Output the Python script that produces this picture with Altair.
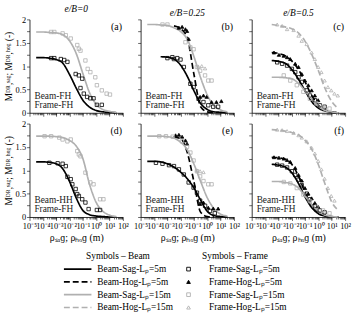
import json
import altair as alt
import pandas as pd

SERIF = "Liberation Serif"
BLACK = "#000000"
GRAY = "#b0b0b0"

RHO_EXP = [-4.5, -4.0, -3.5, -3.0, -2.5, -2.0, -1.5, -1.0, -0.5, 0.0, 0.5, 1.0, 1.5]

BEAM = ["Beam-Sag-Lₚ=5m", "Beam-Hog-Lₚ=5m", "Beam-Sag-Lₚ=15m", "Beam-Hog-Lₚ=15m"]
FRAME = ["Frame-Sag-Lₚ=5m", "Frame-Hog-Lₚ=5m", "Frame-Sag-Lₚ=15m", "Frame-Hog-Lₚ=15m"]
PANEL_TAGS = ["(a)", "(b)", "(c)", "(d)", "(e)", "(f)"]
COL_TITLES = ["e/B=0", "e/B=0.25", "e/B=0.5"]
CASE_TOP = ["Beam-FH", "Beam-FH", "Beam-FH", "Beam-HH", "Beam-HH", "Beam-HH"]
CASE_BOTTOM = ["Frame-FH"] * 6
X_TICK_LABELS = ["10⁻⁵", "10⁻⁴", "10⁻³", "10⁻²", "10⁻¹", "10⁰", "10¹", "10²"]
Y_TICK_LABELS = ["0", "0.5", "1", "1.5", "2"]
X_TITLE = "ρₛₐɡ; ρₕₒɡ (m)"
Y_TITLE = "Mᴰᴿ,ˢᵃᵍ; Mᴰᴿ,ʰᵒᵍ (-)"

# ---- beam curves (y at RHO_EXP) ----
A_BEAM_SAG5 = [1.18, 1.18, 1.17, 1.14, 1.06, 0.82, 0.53, 0.27, 0.12, 0.05, 0.02, 0.01, 0.0]
A_BEAM_SAG15 = [1.73, 1.73, 1.72, 1.71, 1.67, 1.54, 1.27, 0.84, 0.43, 0.18, 0.07, 0.03, 0.01]
B_BEAM_SAG5 = [None, None, 1.2, 1.19, 1.15, 1.02, 0.78, 0.47, 0.2, 0.07, 0.02, 0.01, 0.0]
B_BEAM_HOG5 = [None, None, None, None, 1.86, 1.8, 1.6, 0.82, 0.13, 0.02, 0.0, None, None]
B_BEAM_SAG15 = [1.89, 1.89, 1.88, 1.87, 1.82, 1.74, 1.57, 1.2, 0.75, 0.38, 0.15, 0.06, 0.02]
C_BEAM_SAG5 = [None, None, 1.12, 1.1, 1.06, 0.93, 0.72, 0.47, 0.24, 0.1, 0.04, 0.01, 0.0]
C_BEAM_HOG5 = [None, None, 1.29, 1.27, 1.22, 1.11, 0.93, 0.66, 0.37, 0.16, 0.06, 0.02, 0.0]
C_BEAM_SAG15 = [None, None, 0.76, 0.76, 0.75, 0.73, 0.63, 0.47, 0.29, 0.14, 0.05, 0.02, 0.0]
C_BEAM_HOG15 = [None, None, 1.89, 1.87, 1.84, 1.8, 1.71, 1.53, 1.25, 0.9, 0.52, 0.24, 0.09]
D_BEAM_SAG5 = [1.18, 1.18, 1.17, 1.14, 1.03, 0.76, 0.41, 0.14, 0.05, 0.02, 0.01, 0.0, 0.0]
D_BEAM_SAG15 = [1.73, 1.73, 1.73, 1.72, 1.7, 1.64, 1.52, 1.25, 0.7, 0.31, 0.12, 0.04, 0.01]
E_BEAM_SAG5 = [1.19, 1.19, 1.18, 1.14, 1.07, 0.96, 0.82, 0.62, 0.36, 0.12, 0.03, 0.01, 0.0]
E_BEAM_HOG5 = [None, None, None, None, 1.71, 1.68, 1.38, 0.75, 0.1, 0.01, 0.0, None, None]
E_BEAM_SAG15 = [1.73, 1.73, 1.73, 1.72, 1.69, 1.6, 1.44, 1.13, 0.76, 0.41, 0.18, 0.06, 0.02]
F_BEAM_SAG5 = [None, None, 1.13, 1.11, 1.07, 0.95, 0.72, 0.43, 0.2, 0.07, 0.02, 0.0, 0.0]
F_BEAM_HOG5 = [None, None, 1.28, 1.27, 1.24, 1.13, 0.88, 0.52, 0.25, 0.1, 0.04, 0.01, 0.0]
F_BEAM_SAG15 = [None, None, 0.76, 0.76, 0.74, 0.71, 0.62, 0.45, 0.27, 0.12, 0.04, 0.01, 0.0]
F_BEAM_HOG15 = [None, None, 1.87, 1.86, 1.84, 1.81, 1.76, 1.64, 1.45, 1.12, 0.7, 0.32, 0.14]

# ---- frame points (log10 rho, M) ----
A_FS5_X = [-3.38, -3.14, -2.65, -2.40, -2.16, -1.54, -1.30, -1.05, -1.18, -0.93, -0.68, -0.44, -0.20, 0.05, 0.42]
A_FS5_Y = [1.17, 1.17, 1.15, 1.13, 1.09, 0.83, 0.80, 0.73, 0.53, 0.41, 0.34, 0.31, 0.31, 0.17, 0.17]
A_FS15_X = [-3.38, -3.14, -2.52, -2.28, -1.91, -1.42, -1.30, -1.18, -0.81, -0.64, -0.44, -0.07, 0.05, 0.42, 0.78, 1.03]
A_FS15_Y = [1.73, 1.73, 1.70, 1.66, 1.59, 1.45, 1.37, 1.33, 1.12, 0.94, 0.87, 0.76, 0.59, 0.48, 0.41, 0.39]

B_FS5_X = [-2.99, -2.62, -2.50, -2.25, -2.01, -1.76, -1.27, -1.03, -0.66, -0.29, 0.07, 0.44, 0.81]
B_FS5_Y = [1.17, 1.19, 1.15, 1.17, 1.14, 0.98, 0.62, 0.55, 0.30, 0.23, 0.16, 0.13, 0.13]
B_FH5_X = [-2.13, -1.89, -1.64, -1.52, -1.40, -0.54, -0.29, -0.05, 0.32, 0.68, 1.05]
B_FH5_Y = [1.82, 1.84, 1.79, 1.75, 1.58, 0.34, 0.37, 0.34, 0.23, 0.23, 0.25]
B_FS15_X = [-3.36, -2.99, -1.64, -1.27, -1.03, -0.78, -0.54, -0.17, 0.07, 0.32]
B_FS15_Y = [1.89, 1.89, 1.51, 1.40, 1.36, 0.98, 0.90, 0.80, 0.69, 0.69]
B_FH15_X = [-0.66, -0.42, -0.17]
B_FH15_Y = [0.98, 1.0, 0.95]

C_FS5_X = [-3.09, -2.72, -2.35, -1.99, -1.74, -1.49, -1.25, -0.88, -0.64, -0.27, 0.10, 0.46]
C_FS5_Y = [1.08, 1.05, 1.01, 0.94, 0.87, 0.76, 0.66, 0.48, 0.37, 0.27, 0.16, 0.13]
C_FH5_X = [-3.33, -2.96, -2.6, -2.35, -2.11, -1.74, -1.49, -1.25, -1.01, -0.76, -0.51, -0.27, -0.02]
C_FH5_Y = [1.29, 1.24, 1.22, 1.19, 1.15, 1.05, 0.98, 0.83, 0.69, 0.59, 0.48, 0.37, 0.27]
C_FS15_X = [-2.6, -2.11, -1.62, -1.13, -0.64, -0.15, 0.34, 0.83]
C_FS15_Y = [0.8, 0.69, 0.59, 0.45, 0.3, 0.2, 0.13, 0.09]
C_FH15_X = [-3.09, -2.72, -2.35, -1.86, -1.49, -1.25, -0.88, -0.51, -0.27, -0.02, 0.22, 0.46, 0.71, 0.96, 1.2, 1.45]
C_FH15_Y = [1.89, 1.86, 1.79, 1.77, 1.65, 1.54, 1.47, 1.29, 1.15, 0.98, 0.87, 0.69, 0.55, 0.48, 0.41, 0.37]

D_FS5_X = [-3.51, -2.89, -2.52, -2.28, -2.16, -1.91, -1.79, -1.54, -1.42, -1.30, -1.05, -0.81, -0.57, 0.05, 0.29]
D_FS5_Y = [1.16, 1.15, 1.14, 1.09, 0.86, 0.81, 0.70, 0.60, 0.49, 0.45, 0.38, 0.31, 0.17, 0.15, 0.15]
D_FS15_X = [-3.87, -3.38, -2.77, -2.52, -2.16, -1.91, -1.42, -1.30, -1.18, -0.81, -0.44, -0.20, 0.29, 0.54]
D_FS15_Y = [1.73, 1.73, 1.70, 1.66, 1.62, 1.66, 1.41, 1.34, 1.30, 0.95, 0.74, 0.70, 0.38, 0.38]

E_FS5_X = [-3.85, -3.36, -2.87, -2.5, -2.13, -1.76, -1.40, -1.03, -0.78, -0.54, -0.17, 0.2, 0.56]
E_FS5_Y = [1.16, 1.14, 1.11, 1.09, 1.02, 0.91, 0.74, 0.63, 0.52, 0.35, 0.24, 0.13, 0.08]
E_FH5_X = [-2.38, -2.13, -1.89, -1.64, -1.52, -0.54, -0.29, 0.07, 0.44, 0.81]
E_FH5_Y = [1.75, 1.76, 1.72, 1.64, 1.57, 0.28, 0.31, 0.20, 0.18, 0.18]
E_FS15_X = [-3.6, -3.1, -2.6, -1.9, -1.52, -1.27, -1.03, -0.78, -0.54, -0.29, 0.07, 0.32]
E_FS15_Y = [1.73, 1.73, 1.72, 1.62, 1.5, 1.38, 1.21, 0.98, 0.87, 0.77, 0.70, 0.70]
E_FH15_X = [-0.78, -0.54, -0.29]
E_FH15_Y = [1.0, 0.98, 0.96]

F_FS5_X = [-3.09, -2.72, -2.35, -1.99, -1.74, -1.49, -1.25, -0.88, -0.64, -0.27, 0.1, 0.46]
F_FS5_Y = [1.12, 1.1, 1.06, 0.98, 0.9, 0.8, 0.68, 0.5, 0.38, 0.24, 0.14, 0.1]
F_FH5_X = [-3.33, -2.96, -2.6, -2.35, -2.11, -1.74, -1.49, -1.25, -1.01, -0.76, -0.51, -0.27, -0.02]
F_FH5_Y = [1.28, 1.27, 1.25, 1.22, 1.18, 1.05, 0.9, 0.78, 0.62, 0.5, 0.4, 0.3, 0.22]
F_FS15_X = [-2.6, -2.11, -1.62, -1.13, -0.64, -0.15, 0.34, 0.83]
F_FS15_Y = [0.75, 0.72, 0.62, 0.48, 0.34, 0.22, 0.14, 0.08]
F_FH15_X = [-3.09, -2.72, -2.35, -1.86, -1.49, -1.25, -0.88, -0.51, -0.27, -0.02, 0.22, 0.46, 0.71, 0.96, 1.2]
F_FH15_Y = [1.87, 1.86, 1.84, 1.8, 1.75, 1.7, 1.62, 1.48, 1.36, 1.2, 1.02, 0.82, 0.62, 0.45, 0.35]

CURVES = [
    {0: A_BEAM_SAG5, 2: A_BEAM_SAG15},
    {0: B_BEAM_SAG5, 1: B_BEAM_HOG5, 2: B_BEAM_SAG15},
    {0: C_BEAM_SAG5, 1: C_BEAM_HOG5, 2: C_BEAM_SAG15, 3: C_BEAM_HOG15},
    {0: D_BEAM_SAG5, 2: D_BEAM_SAG15},
    {0: E_BEAM_SAG5, 1: E_BEAM_HOG5, 2: E_BEAM_SAG15},
    {0: F_BEAM_SAG5, 1: F_BEAM_HOG5, 2: F_BEAM_SAG15, 3: F_BEAM_HOG15},
]
POINTS = [
    {0: (A_FS5_X, A_FS5_Y), 2: (A_FS15_X, A_FS15_Y)},
    {0: (B_FS5_X, B_FS5_Y), 1: (B_FH5_X, B_FH5_Y), 2: (B_FS15_X, B_FS15_Y), 3: (B_FH15_X, B_FH15_Y)},
    {0: (C_FS5_X, C_FS5_Y), 1: (C_FH5_X, C_FH5_Y), 2: (C_FS15_X, C_FS15_Y), 3: (C_FH15_X, C_FH15_Y)},
    {0: (D_FS5_X, D_FS5_Y), 2: (D_FS15_X, D_FS15_Y)},
    {0: (E_FS5_X, E_FS5_Y), 1: (E_FH5_X, E_FH5_Y), 2: (E_FS15_X, E_FS15_Y), 3: (E_FH15_X, E_FH15_Y)},
    {0: (F_FS5_X, F_FS5_Y), 1: (F_FH5_X, F_FH5_Y), 2: (F_FS15_X, F_FS15_Y), 3: (F_FH15_X, F_FH15_Y)},
]

XTICK_VALUES = []
for d in range(-5, 2):
    for k in range(1, 10):
        XTICK_VALUES.append(k * 10.0 ** d)
XTICK_VALUES.append(100.0)
YTICK_VALUES = [i * 0.25 for i in range(9)]

IS_DECADE = "abs(log(datum.value)/LN10 - round(log(datum.value)/LN10)) < 0.001"
X_LABEL_EXPR = (IS_DECADE + " ? " + json.dumps(X_TICK_LABELS, ensure_ascii=False)
                + "[round(log(datum.value)/LN10) + 5] : ''")
Y_LABEL_EXPR = ("abs(datum.value*2 - round(datum.value*2)) < 0.001 ? "
                + json.dumps(Y_TICK_LABELS) + "[round(datum.value*2)] : ''")

XSCALE = alt.Scale(type="log", domain=[1e-5, 100], nice=False)
YSCALE = alt.Scale(domain=[0, 2], nice=False)

beam_legend = alt.Legend(
    title="Symbols – Beam", orient="none", legendX=34, legendY=236,
    symbolType="stroke", symbolSize=784, clipHeight=13, rowPadding=0,
    labelOffset=5, labelFont=SERIF, labelFontSize=9.5, labelColor=BLACK,
    titleFont=SERIF, titleFontSize=9.5, titleFontWeight="normal", titleColor=BLACK,
    titleAnchor="middle", titlePadding=2,
)
frame_legend = alt.Legend(
    title="Symbols – Frame", orient="none", legendX=157, legendY=236,
    symbolSize=14, clipHeight=13, rowPadding=0, symbolStrokeWidth=0.9,
    labelOffset=16, labelFont=SERIF, labelFontSize=9.5, labelColor=BLACK,
    titleFont=SERIF, titleFontSize=9.5, titleFontWeight="normal", titleColor=BLACK,
    titleAnchor="middle", titlePadding=2,
)

line_rows = []
for i, curves in enumerate(CURVES):
    for k, ys in curves.items():
        for e, y in zip(RHO_EXP, ys):
            if y is not None:
                line_rows.append({"panel": i, "rho": 10.0 ** e, "m": y, "beam": BEAM[k]})
LDF = pd.DataFrame(line_rows)

pt_rows = []
for i, pts in enumerate(POINTS):
    for k, (xs, ys) in pts.items():
        for e, y in zip(xs, ys):
            pt_rows.append({"panel": i, "rho": 10.0 ** e, "m": y, "frame": FRAME[k]})
PDF = pd.DataFrame(pt_rows)


def panel(i):
    row, col = divmod(i, 3)
    xkw = dict(values=XTICK_VALUES, labelExpr=X_LABEL_EXPR, labelOverlap=False, labelFlush=False,
               tickSize={"condition": {"test": IS_DECADE, "value": 3.5}, "value": 2},
               labels=(row == 1), labelFont=SERIF, labelFontSize=8.5, labelColor=BLACK,
               labelPadding=1, domainColor=BLACK, tickColor=BLACK, domainWidth=0.8,
               tickWidth=0.6, grid=False)
    if row == 1:
        xkw.update(title=X_TITLE, titleFont=SERIF, titleFontSize=10, titleFontWeight="normal",
                   titleColor=BLACK, titlePadding=3)
    else:
        xkw.update(title=None)
    ykw = dict(values=YTICK_VALUES, labelExpr=Y_LABEL_EXPR, labels=(col == 0), tickSize=3,
               labelFont=SERIF, labelFontSize=8.5, labelColor=BLACK, labelPadding=1,
               domainColor=BLACK, tickColor=BLACK, domainWidth=0.8, tickWidth=0.6, grid=False)
    if col == 0:
        ykw.update(title=Y_TITLE, titleFont=SERIF, titleFontSize=9.5, titleFontWeight="normal",
                   titleColor=BLACK, titlePadding=2)
    else:
        ykw.update(title=None)
    x = alt.X("rho:Q", scale=XSCALE, axis=alt.Axis(**xkw))
    y = alt.Y("m:Q", scale=YSCALE, axis=alt.Axis(**ykw))

    lines = alt.Chart(LDF[LDF.panel == i]).mark_line(interpolate="monotone").encode(
        x=x, y=y,
        stroke=alt.Stroke("beam:N", scale=alt.Scale(domain=BEAM, range=[BLACK, BLACK, GRAY, GRAY]),
                          legend=beam_legend),
        strokeDash=alt.StrokeDash("beam:N", scale=alt.Scale(domain=BEAM, range=[[1, 0], [6, 3], [1, 0], [6, 3]]),
                                  legend=beam_legend),
        strokeWidth=alt.StrokeWidth("beam:N", scale=alt.Scale(domain=BEAM, range=[1.7, 1.7, 1.2, 1.2]),
                                    legend=beam_legend),
    )
    points = alt.Chart(PDF[PDF.panel == i]).mark_point(filled=False, size=12, strokeWidth=0.8, opacity=1).encode(
        x=x, y=y,
        color=alt.Color("frame:N", scale=alt.Scale(domain=FRAME, range=[BLACK, BLACK, GRAY, GRAY]),
                        legend=frame_legend),
        fill=alt.Fill("frame:N", scale=alt.Scale(domain=FRAME, range=["transparent", BLACK, "transparent", "transparent"]),
                      legend=frame_legend),
        shape=alt.Shape("frame:N", scale=alt.Scale(domain=FRAME, range=["square", "triangle-up", "square", "triangle-up"]),
                        legend=frame_legend),
    )
    tag = alt.Chart(pd.DataFrame({"t": [PANEL_TAGS[i]]})).mark_text(
        align="right", baseline="middle", font=SERIF, fontSize=10, color=BLACK
    ).encode(text="t:N", x=alt.value(94), y=alt.value(8))
    case1 = alt.Chart(pd.DataFrame({"t": [CASE_TOP[i]]})).mark_text(
        align="left", baseline="middle", font=SERIF, fontSize=9.5, color="#222222"
    ).encode(text="t:N", x=alt.value(5), y=alt.value(78))
    case2 = alt.Chart(pd.DataFrame({"t": [CASE_BOTTOM[i]]})).mark_text(
        align="left", baseline="middle", font=SERIF, fontSize=9.5, color="#222222"
    ).encode(text="t:N", x=alt.value(5), y=alt.value(87))

    props = dict(width=95, height=95)
    if row == 0:
        props["title"] = alt.TitleParams(COL_TITLES[col], font=SERIF, fontSize=9.5, fontStyle="italic",
                                         fontWeight="normal", color=BLACK, anchor="middle", offset=2)
    return alt.layer(lines, points, tag, case1, case2).properties(**props)


chart = alt.concat(*[panel(i) for i in range(6)], columns=3,
                   spacing={"row": 11, "column": 18}, bounds="flush").properties(
    padding={"left": 2, "top": 1, "right": 0, "bottom": 0}
).configure_view(stroke="transparent")

chart.save("out.html", embed_options={"renderer": "svg", "actions": False})
